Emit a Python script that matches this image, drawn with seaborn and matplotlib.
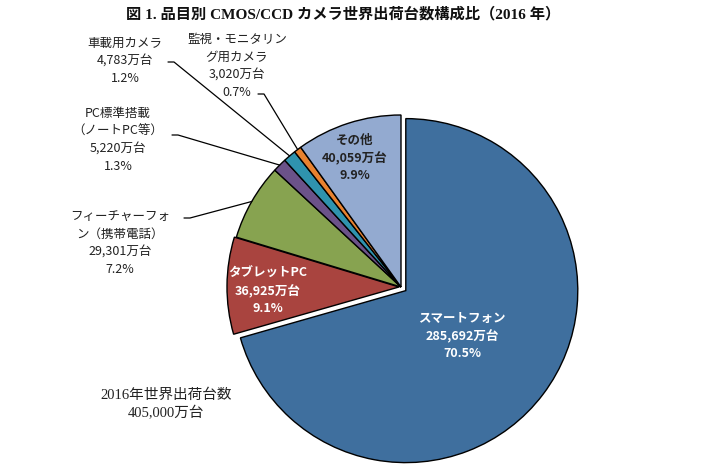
import matplotlib
matplotlib.use("Agg")
import matplotlib.pyplot as plt
import numpy as np
import seaborn as sns

sns.set_theme(style="white")
plt.rcParams['font.family'] = ['Noto Sans CJK JP', 'DejaVu Sans']

# data
categories = ["スマートフォン", "タブレットPC", "フィーチャーフォ\nン（携帯電話）",
              "PC標準搭載\n（ノートPC等）", "車載用カメラ", "監視・モニタリン\nグ用カメラ", "その他"]
units = ["285,692万台", "36,925万台", "29,301万台", "5,220万台", "4,783万台", "3,020万台", "40,059万台"]
shares = [70.5, 9.1, 7.2, 1.3, 1.2, 0.7, 9.9]
colors = ["#3F6F9E", "#A9443F", "#87A350", "#6B5289", "#2F93AE", "#E8822F", "#93AAD0"]
# explode is in data units here (the axes are in pixels)
explode = [6, 2, 0, 0, 0, 0, 0]

title = "図 1. 品目別 CMOS/CCD カメラ世界出荷台数構成比（2016 年）"
total_text = "2016年世界出荷台数\n405,000万台"

serif = ['Liberation Serif', 'Noto Sans CJK JP']

fig = plt.figure(figsize=(7.14, 4.76), dpi=100)
ax = fig.add_axes([0, 0, 1, 1])

wedges, _ = ax.pie(shares, colors=colors, explode=explode, startangle=90,
                   counterclock=False, center=(401, 189), radius=172,
                   wedgeprops=dict(edgecolor='black', linewidth=1.0))
# pie resets the limits, so set them afterwards
ax.set_xlim(0, 714)
ax.set_ylim(0, 476)
ax.set_aspect('equal')
ax.axis('off')

labels = [f"{c}\n{u}\n{s}%" for c, u, s in zip(categories, units, shares)]

# inside labels
ax.text(462, 140, labels[0], ha='center', va='center', color='white',
        fontsize=9, fontweight='bold', linespacing=1.45)
ax.text(268, 185, labels[1], ha='center', va='center', color='white',
        fontsize=9, fontweight='bold', linespacing=1.45)
ax.text(355, 318, labels[6], ha='center', va='center', color='#222222',
        fontsize=9, fontweight='bold', linespacing=1.45)

# outside labels with leader lines
outside = [
    (2, 120, 233, 184, 258),
    (3, 118, 336, 172, 341),
    (4, 125, 415, 168, 414),
    (5, 237, 410, 258, 382),
]
for i, tx, ty, lx, ly in outside:
    ax.text(tx, ty, labels[i], ha='center', va='center', color='#222222',
            fontsize=9, linespacing=1.45)
    w = wedges[i]
    mid = np.deg2rad((w.theta1 + w.theta2) / 2)
    cx, cy = w.center
    wx = cx + w.r * np.cos(mid)
    wy = cy + w.r * np.sin(mid)
    ax.plot([lx, lx + 6, wx], [ly, ly, wy], color='black', linewidth=0.9)

ax.text(343, 462, title, ha='center', va='center', fontsize=11,
        fontweight='bold', family=serif, color='#111111')
ax.text(166, 72, total_text, ha='center', va='center', fontsize=10.5,
        family=serif, color='#222222', linespacing=1.35)

fig.savefig("out.png", dpi=100)
